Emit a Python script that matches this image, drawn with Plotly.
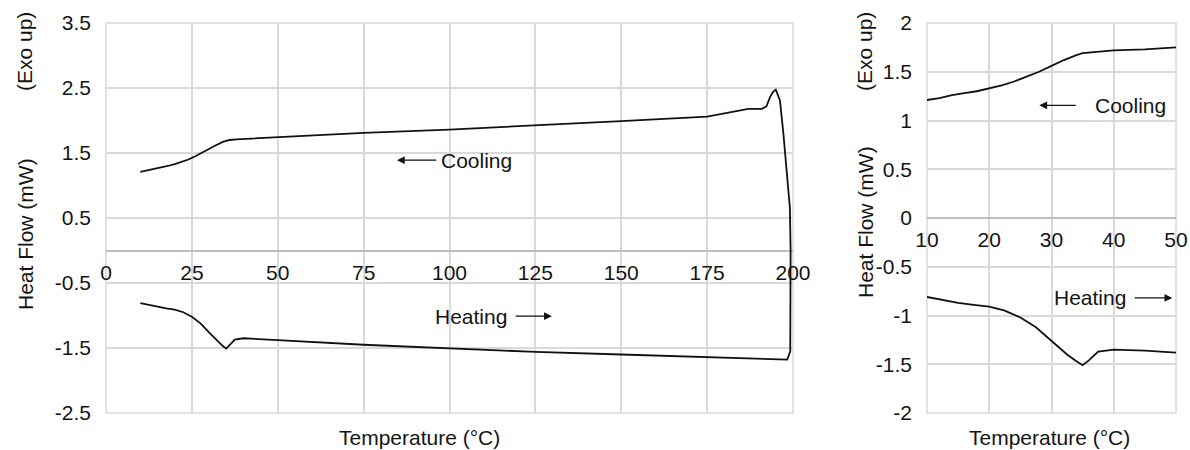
import plotly.graph_objects as go

# DSC curve
# heating run (10 -> ~199 C), then the jump up at the turnaround
heat_x = [10, 12.5, 15, 17.5, 20, 22.5, 25, 27.5, 30, 32.5, 34, 35, 36, 37.5,
          40, 45, 50, 75, 100, 125, 150, 175, 190, 197, 198.3, 199.2, 199.3, 199.1]
heat_y = [-0.81, -0.84, -0.87, -0.89, -0.91, -0.95, -1.02, -1.12, -1.26, -1.40,
          -1.47, -1.51, -1.46, -1.37, -1.35, -1.36, -1.38, -1.45, -1.51, -1.56,
          -1.60, -1.64, -1.66, -1.67, -1.68, -1.55, 0.0, 0.65]

# cooling run (~199 -> 10 C)
cool_x = [199.1, 198.1, 197.2, 196.2, 195.0, 194.2, 193.3, 192.3, 191, 187, 185,
          180.7, 175, 150, 125, 100, 75, 50, 45, 40, 38, 36, 35, 34, 32, 30, 28,
          26, 24, 22, 20, 18, 16, 14, 12, 10]
cool_y = [0.65, 1.28, 1.80, 2.31, 2.475, 2.44, 2.36, 2.22, 2.18, 2.18, 2.16,
          2.11, 2.06, 1.99, 1.92, 1.86, 1.81, 1.75, 1.73, 1.72, 1.71, 1.70, 1.69,
          1.67, 1.62, 1.56, 1.50, 1.45, 1.40, 1.36, 1.33, 1.30, 1.28, 1.26, 1.23, 1.21]

curve_x = heat_x + cool_x
curve_y = heat_y + cool_y

# tick labels (hyphen minus, as in the reference)
x1_ticks = [0, 25, 50, 75, 100, 125, 150, 175, 200]
y1_ticks = [-2.5, -1.5, -0.5, 0.5, 1.5, 2.5, 3.5]
y1_text = ['-2.5', '-1.5', '-0.5', '0.5', '1.5', '2.5', '3.5']
x2_ticks = [10, 20, 30, 40, 50]
y2_ticks = [-2, -1.5, -1, -0.5, 0, 0.5, 1, 1.5, 2]
y2_text = ['-2', '-1.5', '-1', '-0.5', '0', '0.5', '1', '1.5', '2']

W, H = 1190, 450
FONT = dict(family='Liberation Sans, Arial, sans-serif', size=21, color='#141414')
GRID = '#d9d9d9'
line = dict(color='#111111', width=1.8)

data = [
    go.Scatter(x=curve_x, y=curve_y, mode='lines', line=line,
               xaxis='x', yaxis='y', showlegend=False, hoverinfo='skip'),
    go.Scatter(x=curve_x, y=curve_y, mode='lines', line=line,
               xaxis='x2', yaxis='y2', showlegend=False, hoverinfo='skip'),
]

def xax(dom, rng, ticks, pos):
    return dict(domain=dom, range=rng, tickvals=ticks, anchor='free',
                position=pos, showgrid=True, gridcolor=GRID, gridwidth=1.5,
                zeroline=False, showline=False, ticks='', ticklabelstandoff=7,
                tickfont=FONT, automargin=False)

def yax(rng, ticks, text, anchor):
    return dict(domain=[0, 1], range=rng, tickvals=ticks, ticktext=text,
                anchor=anchor, showgrid=True, gridcolor=GRID, gridwidth=1.5,
                zeroline=True, zerolinecolor='#bfbfbf', zerolinewidth=1.5,
                showline=False, ticks='', ticklabelstandoff=14, tickfont=FONT,
                automargin=False)

T, B = 23, 37
PH = H - T - B

ann = []
# axis titles
for xp, cy_heat, cy_exo in [(25, 234, 52), (865, 222, 52)]:
    for txt, cy in [('Heat Flow (mW)', cy_heat), ('(Exo up)', cy_exo)]:
        ann.append(dict(text=txt, x=xp / W, y=1 - (cy - T) / PH,
                        xref='paper', yref='paper', xanchor='center',
                        yanchor='middle', showarrow=False, textangle=-90,
                        font=FONT))
for cx in [419, 1049]:
    ann.append(dict(text='Temperature (°C)', x=cx / W, y=1 - (437 - T) / PH,
                    xref='paper', yref='paper', showarrow=False, font=FONT,
                    xanchor='center', yanchor='middle'))

# Cooling / Heating labels with arrows
labels = [
    ('x', 'y', 'Cooling', 97, 1.39, 'left', (96.6, 84.7)),
    ('x', 'y', 'Heating', 117.3, -1.01, 'right', (118.8, 129.8)),
    ('x2', 'y2', 'Cooling', 36.7, 1.156, 'left', (34.15, 28.04)),
    ('x2', 'y2', 'Heating', 42.3, -0.82, 'right', (43.1, 49.4)),
]
for xr, yr, txt, tx, ty, anc, (tail, head) in labels:
    ann.append(dict(text=txt, x=tx, y=ty, xref=xr, yref=yr, xanchor=anc,
                    showarrow=False, font=FONT))
    ann.append(dict(text='', x=head, y=ty, ax=tail, ay=ty, xref=xr, yref=yr,
                    axref=xr, ayref=yr, showarrow=True, arrowhead=2,
                    arrowsize=1.3, arrowwidth=1.2, arrowcolor='#111111'))

# frame round each plot area (edge gridlines)
shapes = [dict(type='rect', xref=xr + ' domain', yref=yr + ' domain',
               x0=0, x1=1, y0=0, y1=1, line=dict(color=GRID, width=1.5),
               layer='below')
          for xr, yr in [('x', 'y'), ('x2', 'y2')]]

layout = go.Layout(width=W, height=H, margin=dict(l=0, r=0, t=T, b=B),
                   template='none', paper_bgcolor='white', plot_bgcolor='white',
                   font=FONT,
                   xaxis=xax([106 / W, 793 / W], [0, 200], x1_ticks, 2.5 / 6),
                   yaxis=yax([-2.5, 3.5], y1_ticks, y1_text, 'x'),
                   xaxis2=xax([927 / W, 1176 / W], [10, 50], x2_ticks, 0.5),
                   yaxis2=yax([-2, 2], y2_ticks, y2_text, 'x2'),
                   annotations=ann, shapes=shapes)

fig = go.Figure(data=data, layout=layout)
fig.write_html('out.html', config={'displayModeBar': False},
               post_script="document.body.style.margin='0';")
